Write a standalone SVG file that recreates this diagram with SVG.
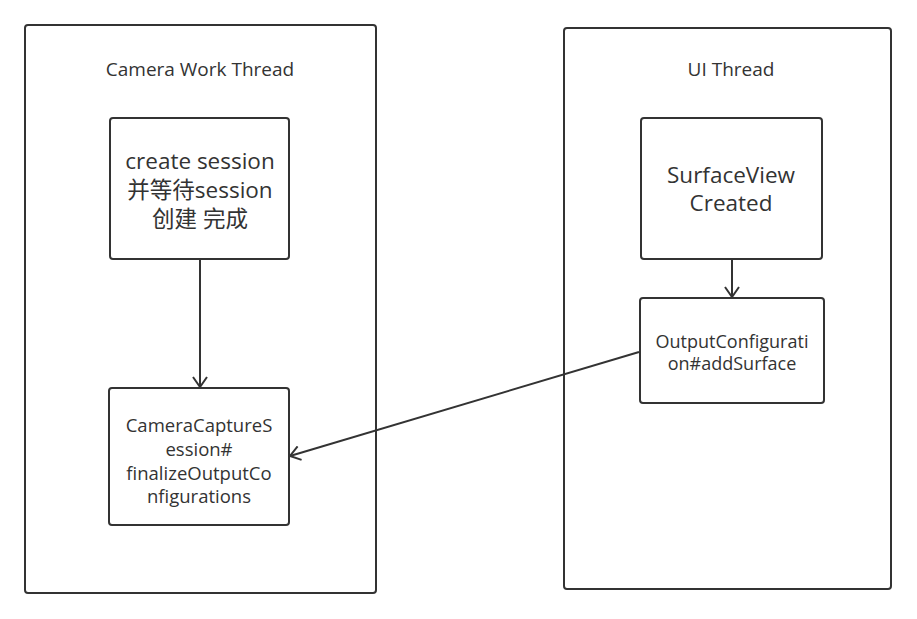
<svg xmlns="http://www.w3.org/2000/svg" width="917" height="619" viewBox="0 0 917 619">
<defs>
<style>
.c{fill:#fff;stroke:#333;stroke-width:2}
.t{font-family:"Open Sans","Noto Sans CJK SC",sans-serif;fill:#333;text-anchor:middle}
.e{fill:none;stroke:#333;stroke-width:2}
</style>
<marker id="a" viewBox="0 0 12 16" refX="11" refY="8" markerWidth="12" markerHeight="16" markerUnits="userSpaceOnUse" orient="auto">
<path d="M1,1 L11,8 L1,15" fill="none" stroke="#333" stroke-width="2"/>
</marker>
</defs>
<rect width="917" height="619" fill="#fff"/>
<g id="camera-thread">
<rect class="c" x="25" y="25" width="351" height="568" rx="3"/>
<text class="t" x="200" y="76" font-size="19">Camera Work Thread</text>
</g>
<g id="ui-thread">
<rect class="c" x="564" y="28" width="327" height="561" rx="3"/>
<text class="t" x="731" y="76" font-size="19">UI Thread</text>
</g>
<g id="create-session">
<rect class="c" x="110" y="118" width="179" height="141" rx="3"/>
<text class="t" font-size="22.5"><tspan x="200" y="169">create session</tspan><tspan x="200" y="198">并等待session</tspan><tspan x="200" y="227">创建 完成</tspan></text>
</g>
<g id="finalize">
<rect class="c" x="109" y="388" width="180" height="137" rx="3"/>
<text class="t" font-size="18.5"><tspan x="199" y="432">CameraCaptureS</tspan><tspan x="199" y="456">ession#</tspan><tspan x="199" y="480">finalizeOutputCo</tspan><tspan x="199" y="503">nfigurations</tspan></text>
</g>
<g id="surfaceview">
<rect class="c" x="641" y="118" width="181" height="141" rx="3"/>
<text class="t" font-size="22.5"><tspan x="731" y="183">SurfaceView</tspan><tspan x="731" y="211">Created</tspan></text>
</g>
<g id="addsurface">
<rect class="c" x="640" y="298" width="184" height="105" rx="3"/>
<text class="t" font-size="18"><tspan x="732" y="348">OutputConfigurati</tspan><tspan x="732" y="370">on#addSurface</tspan></text>
</g>
<g id="connectors">
<line class="e" x1="200" y1="259" x2="200" y2="387" marker-end="url(#a)"/>
<line class="e" x1="732" y1="259" x2="732" y2="297" marker-end="url(#a)"/>
<line class="e" x1="639" y1="352" x2="290" y2="456" marker-end="url(#a)"/>
</g>
</svg>
